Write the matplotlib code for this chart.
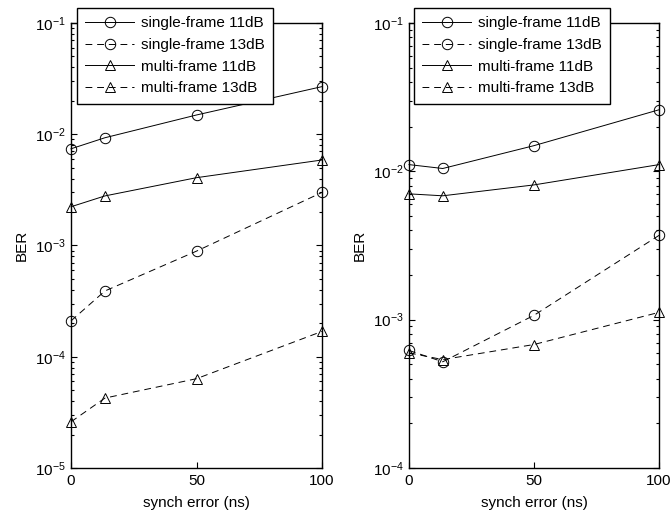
import matplotlib
matplotlib.use('Agg')
import matplotlib.pyplot as plt
from matplotlib.ticker import LogLocator, NullFormatter, FixedLocator

plt.rcParams['font.family'] = ['Liberation Sans', 'DejaVu Sans']
plt.rcParams['mathtext.fontset'] = 'custom'
plt.rcParams['mathtext.rm'] = 'Liberation Sans'
plt.rcParams['mathtext.it'] = 'Liberation Sans'

# synch error (ns)
synch_err = [0, 13.5, 50, 100]

# left panel BER
left_single_11 = [7.4e-3, 9.3e-3, 1.49e-2, 2.68e-2]
left_single_13 = [2.1e-4, 3.9e-4, 8.9e-4, 3.0e-3]
left_multi_11 = [2.23e-3, 2.79e-3, 4.07e-3, 5.87e-3]
left_multi_13 = [2.6e-5, 4.25e-5, 6.35e-5, 1.69e-4]

# right panel BER
right_single_11 = [1.11e-2, 1.045e-2, 1.49e-2, 2.6e-2]
right_single_13 = [6.2e-4, 5.2e-4, 1.07e-3, 3.7e-3]
right_multi_11 = [7.05e-3, 6.84e-3, 8.1e-3, 1.11e-2]
right_multi_13 = [5.97e-4, 5.38e-4, 6.8e-4, 1.12e-3]

labels = ['single-frame 11dB', 'single-frame 13dB', 'multi-frame 11dB', 'multi-frame 13dB']
styles = [('o', '-'), ('o', (0, (7, 5))), ('^', '-'), ('^', (0, (7, 5)))]

FS = 11

fig = plt.figure(figsize=(6.71, 5.13), dpi=100)
ax_l = fig.add_axes([71 / 671, 45 / 513, 251 / 671, 445 / 513])
ax_r = fig.add_axes([409 / 671, 45 / 513, 250 / 671, 445 / 513])


def draw(ax, series, ylim, legend_x):
    for ys, (mk, ls), lab in zip(series, styles, labels):
        ax.plot(synch_err, ys, color='black', lw=0.7, linestyle=ls, marker=mk,
                markersize=7.5, markerfacecolor='none',
                markeredgecolor='black', markeredgewidth=0.7, label=lab,
                clip_on=False)
    ax.set_yscale('log')
    ax.set_ylim(*ylim)
    ax.set_xlim(0, 100)
    ax.xaxis.set_major_locator(FixedLocator([0, 50, 100]))
    ax.yaxis.set_major_locator(LogLocator(base=10, numticks=10))
    ax.yaxis.set_minor_locator(LogLocator(base=10, subs=range(2, 10), numticks=10))
    ax.yaxis.set_minor_formatter(NullFormatter())
    ax.tick_params(which='both', direction='in', top=True, right=True,
                   labelsize=FS, width=0.8, pad=4)
    ax.tick_params(which='major', length=4)
    ax.tick_params(which='minor', length=2)
    for s in ax.spines.values():
        s.set_linewidth(1.0)
    ax.set_xlabel('synch error (ns)', fontsize=FS, labelpad=6)
    ax.set_ylabel('BER', fontsize=FS, labelpad=4)
    leg = fig.legend(*ax.get_legend_handles_labels(), loc='upper left',
                     bbox_to_anchor=(legend_x, 1 - 8 / 513), fontsize=FS,
                     fancybox=False, framealpha=1, edgecolor='black',
                     handlelength=3.2, handletextpad=0.45, borderpad=0.55,
                     labelspacing=0.5, borderaxespad=0)
    leg.get_frame().set_linewidth(1.0)


draw(ax_l, [left_single_11, left_single_13, left_multi_11, left_multi_13],
     (1e-5, 1e-1), 77 / 671)
draw(ax_r, [right_single_11, right_single_13, right_multi_11, right_multi_13],
     (1e-4, 1e-1), 414 / 671)

fig.savefig('out.png', dpi=100)
